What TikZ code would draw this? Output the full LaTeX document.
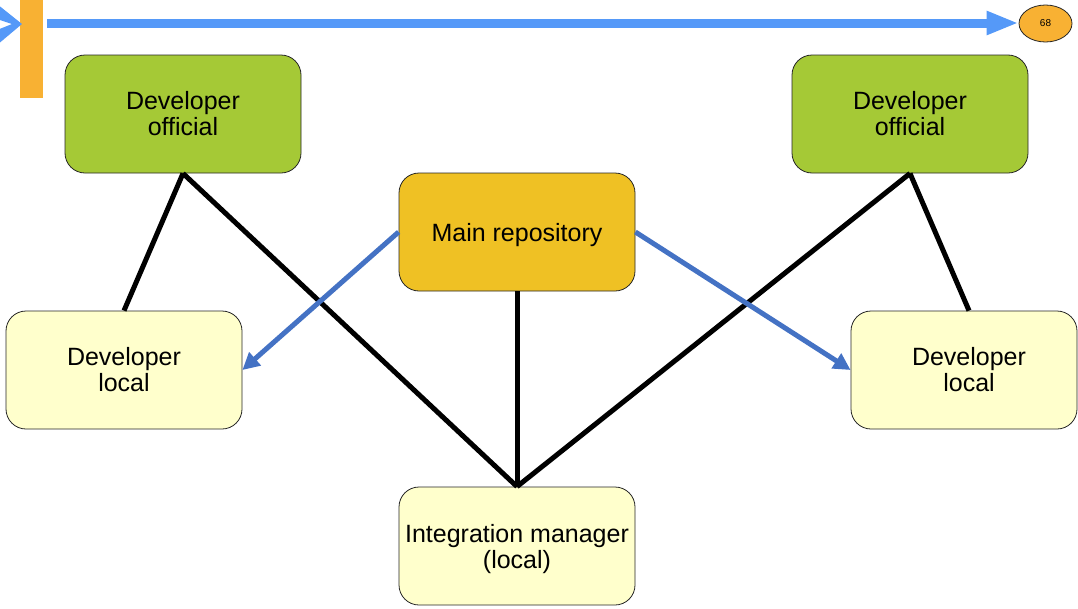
\documentclass[tikz,border=0pt]{standalone}
\usepackage{fontspec}
\setmainfont{Liberation Sans}
\usetikzlibrary{arrows.meta,shapes.geometric}
\definecolor{devgreen}{HTML}{A5C936}
\definecolor{repoyellow}{HTML}{EFC124}
\definecolor{paleyellow}{HTML}{FFFFCC}
\definecolor{barorange}{HTML}{F8B133}
\definecolor{topblue}{HTML}{5599F8}
\definecolor{linkblue}{HTML}{4472C4}
% taller line so the text sits a little lower in its box
\newcommand\firstline{\rule{0pt}{24pt}}
\begin{document}
\begin{tikzpicture}[x=1pt,y=-1pt,
  box/.style={draw=black!85, line width=0.8pt, rounded corners=20pt,
    minimum width=236pt, minimum height=118pt, inner sep=0pt, align=center,
    font=\fontsize{25}{26}\selectfont},
  official/.style={box, fill=devgreen},
  repo/.style={box, fill=repoyellow},
  localbox/.style={box, fill=paleyellow},
  link/.style={line width=5pt, black},
  push/.style={line width=5pt, linkblue, -{Triangle[length=17pt,width=17pt]}}]
\useasboundingbox (0,0) rectangle (1078,608);

% slide navigation bar
\fill[barorange] (20,0) rectangle (43,98);
\fill[topblue] (-3,4) -- (22,24) -- (-3,45) -- (-3,30) -- (12,24) -- (-3,19) -- cycle;
\node[ellipse, draw=black!85, line width=0.8pt, fill=barorange,
  minimum width=53pt, minimum height=37pt, inner sep=0pt,
  font=\fontsize{10}{12}\selectfont] (page) at (1045.5,23.5) {68};
\coordinate (navstart) at (47,23);
\draw[line width=9pt, topblue, -{Triangle[length=32pt,width=22pt]}]
  (navstart) -- (page.west |- navstart);

% repositories
\node[official] (dofl) at (183,114) {Developer\\official};
\node[official] (dofr) at (910,114) {Developer\\official};
\node[repo] (main) at (517,232) {\firstline Main repository};
\node[localbox] (dll) at (124,370) {Developer\\local};
\node[localbox, minimum width=226pt] (dlr) at (964,370)
  {\hspace*{10pt}Developer\\\hspace*{10pt}local};
\node[localbox] (im) at (517,546) {\firstline Integration manager\\(local)};

% connections
\draw[link] (dofl.south) -- (dll.north);
\draw[link] (dofl.south) -- (im.north);
\draw[link] (main.south) -- (im.north);
\draw[link] (dofr.south) -- (im.north);
\draw[link] (dofr.south) -- ([xshift=5pt]dlr.north);
\draw[push] (main.west) -- (dll.east);
\draw[push] (main.east) -- (dlr.west);
\end{tikzpicture}
\end{document}
